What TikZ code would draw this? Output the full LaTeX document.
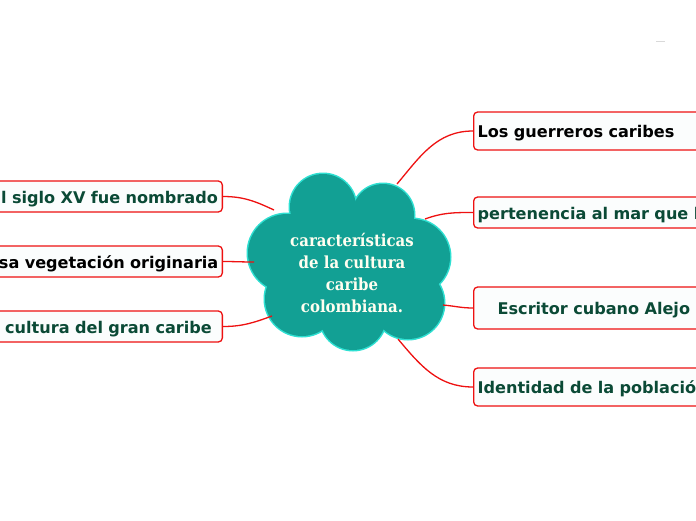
\documentclass[tikz,border=0pt]{standalone}
\usepackage{fontspec}
\setmainfont{DejaVu Sans}
\newfontfamily\cloudfont{DejaVu Serif Condensed}
\definecolor{linkred}{HTML}{EE1111}
\definecolor{darkgreen}{HTML}{0B4A36}
\definecolor{teal1}{HTML}{12A094}
\definecolor{teal2}{HTML}{2FE0D2}
\definecolor{boxfill}{HTML}{FBFDFD}
\tikzset{
  topicbox/.style={draw=linkred, line width=1.3pt, rounded corners=4pt, fill=boxfill,
    font=\fontsize{16.1}{19}\bfseries\selectfont, inner sep=0pt, text height=15pt, text depth=1.2pt},
  rbox/.style={topicbox, anchor=west, minimum width=420, text width=416, align=left},
  lbox/.style={topicbox, anchor=east, minimum width=300, minimum height=31, align=right},
  link/.style={draw=linkred, line width=1.3pt},
}
\begin{document}
\begin{tikzpicture}[x=1pt,y=-1pt]
\useasboundingbox (0,0) rectangle (696,520);
\clip (0,0) rectangle (696,520);
\fill[white] (0,0) rectangle (696,520);
\draw[gray!30, line width=0.8pt] (656,41) -- (665,41);
% cloud
\foreach \cx/\cy/\r in {323/207/33, 383/215/31, 412/257/38, 408/303/36, 353/317/33, 302/299/37, 287/253/39}
  \draw[teal2, line width=3pt] (\cx,\cy) circle (\r);
\foreach \cx/\cy/\r in {323/207/33, 383/215/31, 412/257/38, 408/303/36, 353/317/33, 302/299/37, 287/253/39}
  \fill[teal1] (\cx,\cy) circle (\r);
\fill[teal1] (350,262) circle (55);
\node[text=white!94!yellow, align=center, font=\cloudfont\bfseries\fontsize{16.6}{21.7}\selectfont] (center) at (352,273) {características\\de la cultura\\caribe\\colombiana.};
% cloud anchor coordinates
\coordinate (c1) at (274,210);
\coordinate (c2) at (254,262);
\coordinate (c3) at (272,316);
\coordinate (c4) at (397,184);
\coordinate (c5) at (425,219);
\coordinate (c6) at (443,305);
\coordinate (c7) at (398,339);
% left boxes
\node[lbox, text width=291, text=darkgreen] (L1) at (223,196.5) {l siglo XV fue nombrado};
\node[lbox, text width=292, text=black] (L2) at (223,261.5) {sa vegetación originaria};
\node[lbox, text width=291, text=darkgreen] (L3) at (223,326.5) {cultura del gran caribe\hspace*{6pt}};
% right boxes
\node[rbox, minimum height=38, text=black] (R1) at (473,131) {\hspace*{2pt}Los guerreros caribes};
\node[rbox, minimum height=31, text=darkgreen] (R2) at (473,212.5) {\hspace*{2pt}pertenencia al mar que lo rodea};
\node[rbox, minimum height=42, text=darkgreen] (R3) at (473,308) {\hspace*{22pt}Escritor cubano Alejo Carpentier};
\node[rbox, minimum height=38, text=darkgreen] (R4) at (473,387) {\hspace*{2pt}Identidad de la población};
% connectors
\draw[link] (L1.east) to[out=0, in=155] (c1);
\draw[link] (L2.east) to[out=0, in=180] (c2);
\draw[link] (L3.east) to[out=0, in=200] (c3);
\draw[link] (c4) to[out=50, in=180] (R1.west);
\draw[link] (c5) to[out=20, in=180] (R2.west);
\draw[link] (c6) to[out=-5, in=180] (R3.west);
\draw[link] (c7) to[out=-50, in=180] (R4.west);
\end{tikzpicture}
\end{document}
